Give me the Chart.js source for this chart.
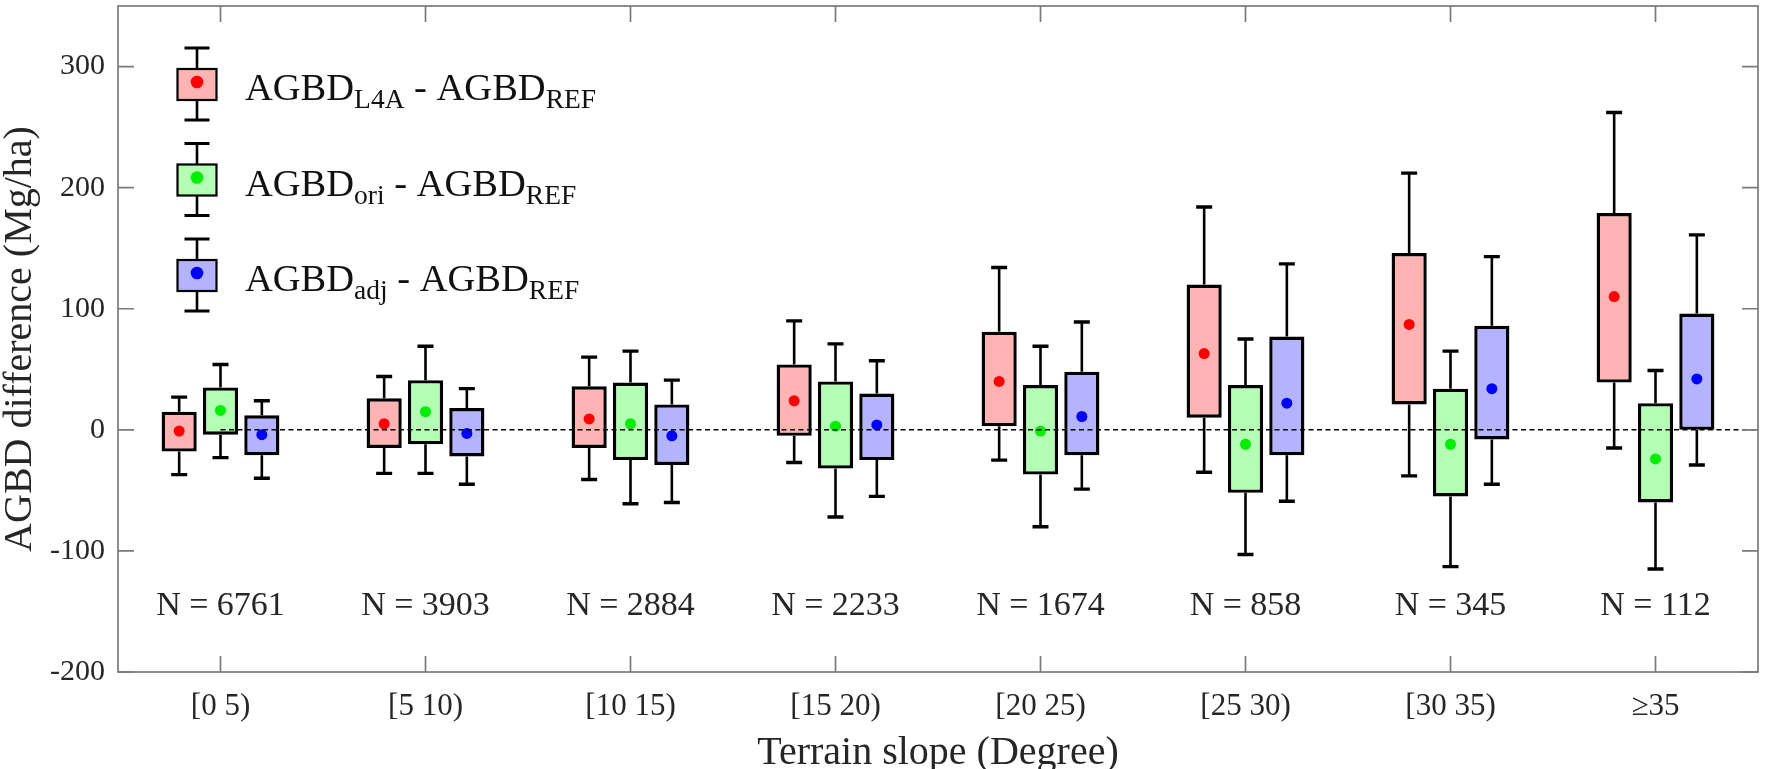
<!DOCTYPE html>
<html><head><meta charset="utf-8">
<script src="https://cdn.jsdelivr.net/npm/chart.js@4.4.1/dist/chart.umd.min.js"></script>
<style>html,body{margin:0;padding:0;background:#fff;overflow:hidden}</style>
</head><body>
<canvas id="c" width="1765" height="769"></canvas>
<script>
// ---------------- data ----------------
const categories = ['[0 5)', '[5 10)', '[10 15)', '[15 20)', '[20 25)', '[25 30)', '[30 35)', '\u226535'];
const sampleCounts = [6761, 3903, 2884, 2233, 1674, 858, 345, 112];
const yTicks = [-200, -100, 0, 100, 200, 300];

// AGBD_L4A - AGBD_REF
const l4aMax  = [27, 44, 60, 90, 134, 184, 212, 262];
const l4aQ3   = [15, 26, 36, 54, 81, 120, 146, 179];
const l4aMean = [-1, 5, 9, 24, 40, 63, 87, 110];
const l4aQ1   = [-18, -15, -15, -5, 3, 10, 21, 39];
const l4aMin  = [-37, -36, -41, -27, -25, -35, -38, -15];

// AGBD_ori - AGBD_REF
const oriMax  = [54, 69, 65, 71, 69, 75, 65, 49];
const oriQ3   = [35, 41, 39, 40, 37, 37, 34, 22];
const oriMean = [16, 15, 5, 3, -1, -12, -12, -24];
const oriQ1   = [-4, -12, -25, -32, -37, -52, -55, -60];
const oriMin  = [-23, -36, -61, -72, -80, -103, -113, -115];

// AGBD_adj - AGBD_REF
const adjMax  = [24, 34, 41, 57, 89, 137, 143, 161];
const adjQ3   = [12, 18, 21, 30, 48, 77, 86, 96];
const adjMean = [-4, -3, -5, 4, 11, 22, 34, 42];
const adjQ1   = [-21, -22, -29, -25, -21, -21, -8, 0];
const adjMin  = [-40, -45, -60, -55, -49, -59, -45, -29];

const seriesSub = ['L4A', 'ori', 'adj'];
const seriesFill = ['#FFB3B3', '#B3FFB3', '#B3B3FF'];
const seriesDot = ['#FF0000', '#00EE00', '#0000FF'];

const series = [
  {max: l4aMax, q3: l4aQ3, mean: l4aMean, q1: l4aQ1, min: l4aMin},
  {max: oriMax, q3: oriQ3, mean: oriMean, q1: oriQ1, min: oriMin},
  {max: adjMax, q3: adjQ3, mean: adjMean, q1: adjQ1, min: adjMin}
];

const FONT = "'Liberation Serif', 'Times New Roman', serif";
const TXT = '#262626';
const FRAME = '#7a7a7a';

const boxPlugin = {
  id: 'boxExtras',
  beforeDatasetsDraw(chart) {
    const {ctx, scales: {y}} = chart;
    ctx.save();
    ctx.strokeStyle = '#000';
    series.forEach((s, di) => {
      const meta = chart.getDatasetMeta(di);
      meta.data.forEach((bar, i) => {
        const x = bar.x;
        const pMax = y.getPixelForValue(s.max[i]);
        const pQ3 = y.getPixelForValue(s.q3[i]);
        const pQ1 = y.getPixelForValue(s.q1[i]);
        const pMin = y.getPixelForValue(s.min[i]);
        ctx.lineWidth = 2.6;
        ctx.beginPath();
        ctx.moveTo(x, pQ3); ctx.lineTo(x, pMax);
        ctx.moveTo(x, pQ1); ctx.lineTo(x, pMin);
        ctx.stroke();
        ctx.lineWidth = 3.4;
        ctx.beginPath();
        ctx.moveTo(x - 8, pMax); ctx.lineTo(x + 8, pMax);
        ctx.moveTo(x - 8, pMin); ctx.lineTo(x + 8, pMin);
        ctx.stroke();
      });
    });
    ctx.restore();
  },
  afterDatasetsDraw(chart) {
    const {ctx, scales: {x, y}, chartArea} = chart;
    ctx.save();
    series.forEach((s, di) => {
      const meta = chart.getDatasetMeta(di);
      meta.data.forEach((bar, i) => {
        ctx.fillStyle = seriesDot[di];
        ctx.beginPath();
        ctx.arc(bar.x, y.getPixelForValue(s.mean[i]), 5.5, 0, Math.PI * 2);
        ctx.fill();
      });
    });
    // zero reference line
    const y0 = y.getPixelForValue(0);
    ctx.strokeStyle = '#000';
    ctx.lineWidth = 1.5;
    ctx.setLineDash([5, 3.5]);
    ctx.beginPath();
    ctx.moveTo(x.getPixelForValue(0), y0);
    ctx.lineTo(chartArea.right, y0);
    ctx.stroke();
    ctx.restore();
  },
  afterDraw(chart) {
    const {ctx, scales: {x, y}, chartArea: ca} = chart;
    ctx.save();
    // frame
    ctx.strokeStyle = FRAME;
    ctx.lineWidth = 1.7;
    ctx.strokeRect(ca.left, ca.top, ca.right - ca.left, ca.bottom - ca.top);
    // inward ticks
    ctx.beginPath();
    y.ticks.forEach(t => {
      const py = y.getPixelForValue(t.value);
      ctx.moveTo(ca.left, py); ctx.lineTo(ca.left + 16, py);
      ctx.moveTo(ca.right, py); ctx.lineTo(ca.right - 16, py);
    });
    categories.forEach((c, i) => {
      const px = x.getPixelForValue(i);
      ctx.moveTo(px, ca.bottom); ctx.lineTo(px, ca.bottom - 16);
      ctx.moveTo(px, ca.top); ctx.lineTo(px, ca.top + 16);
    });
    ctx.stroke();
    // N labels
    ctx.fillStyle = TXT;
    ctx.font = '34px ' + FONT;
    ctx.textAlign = 'center';
    ctx.textBaseline = 'middle';
    sampleCounts.forEach((n, i) => {
      ctx.fillText('N = ' + n, x.getPixelForValue(i), 606);
    });
    // legend
    ctx.textAlign = 'left';
    ctx.textBaseline = 'alphabetic';
    seriesSub.forEach((sub, k) => {
      const cy = 82 + k * 95.5;
      const cx = 197;
      ctx.strokeStyle = '#000';
      ctx.lineWidth = 2.6;
      ctx.beginPath();
      ctx.moveTo(cx, cy - 34); ctx.lineTo(cx, cy + 38);
      ctx.stroke();
      ctx.lineWidth = 3.2;
      ctx.beginPath();
      ctx.moveTo(cx - 12.5, cy - 34); ctx.lineTo(cx + 12.5, cy - 34);
      ctx.moveTo(cx - 12.5, cy + 38); ctx.lineTo(cx + 12.5, cy + 38);
      ctx.stroke();
      ctx.fillStyle = seriesFill[k];
      ctx.fillRect(cx - 19.5, cy - 13, 39, 31);
      ctx.lineWidth = 2.2;
      ctx.strokeRect(cx - 19.5, cy - 13, 39, 31);
      ctx.fillStyle = seriesDot[k];
      ctx.beginPath();
      ctx.arc(cx, cy, 6.3, 0, Math.PI * 2);
      ctx.fill();
      // text
      let tx = 245;
      const base = cy + 18;
      ctx.fillStyle = '#111';
      const big = '38.5px ' + FONT, small = '27.5px ' + FONT;
      const parts = [['AGBD', big, 0], [sub, small, 8], [' - AGBD', big, 0], ['REF', small, 8]];
      parts.forEach(([t, f, dy]) => {
        ctx.font = f;
        ctx.fillText(t, tx, base + dy);
        tx += ctx.measureText(t).width;
      });
    });
    ctx.restore();
  }
};

const datasets = series.map((s, di) => ({
  label: seriesSub[di],
  data: s.q1.map((v, i) => [v, s.q3[i]]),
  backgroundColor: seriesFill[di],
  borderColor: '#000',
  borderWidth: 3.4,
  borderSkipped: false,
  categoryPercentage: 0.605,
  barPercentage: 0.85
}));

new Chart(document.getElementById('c'), {
  type: 'bar',
  data: {labels: categories, datasets},
  plugins: [boxPlugin],
  options: {
    responsive: false,
    devicePixelRatio: 1,
    animation: false,
    layout: {padding: {left: 0, right: 7, top: 6, bottom: 0}},
    plugins: {legend: {display: false}, tooltip: {enabled: false}},
    scales: {
      x: {
        type: 'category',
        offset: true,
        grid: {display: false, drawTicks: false},
        border: {display: false},
        ticks: {font: {family: FONT, size: 31}, color: TXT, padding: 16, maxRotation: 0, autoSkip: false},
        title: {display: true, text: 'Terrain slope (Degree)', color: TXT,
                font: {family: FONT, size: 40, lineHeight: 0.8}, padding: 0},
        afterFit(s) { s.height = 97; s.paddingLeft = 0; s.paddingRight = 0; }
      },
      y: {
        min: -200, max: 350,
        afterBuildTicks(s) { s.ticks = yTicks.map(v => ({value: v})); },
        grid: {display: false, drawTicks: false},
        border: {display: false},
        ticks: {font: {family: FONT, size: 30}, color: TXT, padding: 13},
        title: {display: true, text: 'AGBD difference (Mg/ha)', color: TXT,
                font: {family: FONT, size: 40, lineHeight: 1}, padding: 0},
        afterFit(s) { s.width = 118; s.paddingTop = 0; s.paddingBottom = 0; }
      }
    }
  }
});
</script>
</body></html>
